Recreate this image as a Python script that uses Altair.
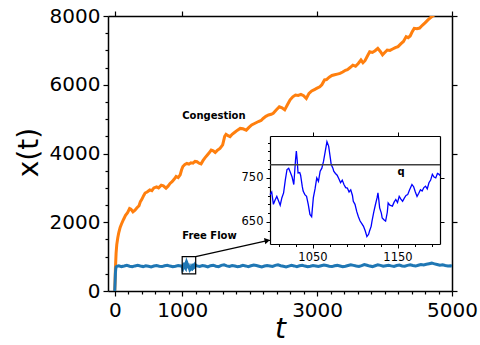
import altair as alt
import pandas as pd

# ---------------- data ----------------
orange_t = [0, 5, 10, 20, 30, 45, 60, 80, 100, 130, 160, 190, 220, 240, 270, 300, 330, 360, 380, 400,
            430, 450, 480, 520, 550, 580, 620, 650, 690, 720, 760, 790, 820, 850, 880, 910, 940, 970, 990, 1010,
            1040, 1070, 1100, 1130, 1160, 1190, 1220, 1250, 1280, 1310, 1340, 1370, 1400, 1430, 1460, 1490, 1520, 1560, 1600, 1630,
            1650, 1680, 1710, 1740, 1780, 1820, 1860, 1900, 1950, 1990, 2030, 2080, 2130, 2170, 2200, 2240, 2280, 2320, 2350, 2390,
            2440, 2480, 2520, 2560, 2600, 2640, 2680, 2720, 2760, 2800, 2840, 2880, 2920, 2960, 3000, 3040, 3070, 3110, 3140, 3180,
            3220, 3260, 3300, 3340, 3380, 3420, 3450, 3490, 3530, 3570, 3610, 3650, 3680, 3710, 3750, 3780, 3820, 3860, 3900, 3940,
            3970, 4000, 4040, 4080, 4120, 4160, 4200, 4240, 4280, 4320, 4350, 4380, 4410, 4440, 4480, 4520, 4560, 4600, 4640, 4680,
            4720, 4760, 4800]
orange_v = [0, 300, 650, 1100, 1350, 1550, 1700, 1850, 1950, 2080, 2200, 2280, 2400, 2380, 2300, 2350, 2420, 2480, 2600, 2660,
            2780, 2850, 2880, 2940, 2920, 3000, 3030, 3000, 3080, 3060, 2990, 3050, 3130, 3180, 3250, 3330, 3300, 3380, 3520, 3620,
            3680, 3710, 3690, 3730, 3720, 3770, 3760, 3720, 3700, 3800, 3880, 3950, 4020, 4100, 4080, 4030, 4090, 4150, 4250, 4500,
            4560, 4520, 4490, 4560, 4620, 4680, 4730, 4720, 4680, 4760, 4830, 4880, 4930, 4960, 5020, 5080, 5120, 5140, 5170, 5260,
            5360, 5330, 5270, 5420, 5560, 5650, 5700, 5690, 5720, 5680, 5600, 5750, 5820, 5860, 5900, 5940, 6000, 6140, 6150, 6220,
            6270, 6290, 6310, 6330, 6370, 6420, 6440, 6500, 6570, 6540, 6620, 6720, 6640, 6700, 6850, 6960, 6940, 6990, 7060, 6960,
            6870, 6930, 7010, 7000, 7040, 7080, 7110, 7190, 7260, 7400, 7370, 7420, 7540, 7640, 7630, 7650, 7730, 7800, 7880, 7950,
            8010, 8060, 8120]

blue_t = [0, 5, 10, 15, 20, 30, 60, 100, 140, 180, 220, 260, 300, 340, 380, 420, 460, 500, 540, 580,
          620, 660, 700, 740, 780, 820, 860, 900, 940, 980,
          1220, 1260, 1300, 1340, 1380, 1420, 1460, 1500, 1540, 1580, 1620, 1660, 1700, 1740, 1780, 1820, 1860, 1900, 1940, 1980,
          2020, 2060, 2100, 2140, 2180, 2220, 2260, 2300, 2340, 2380, 2420, 2460, 2500, 2540, 2580, 2620, 2660, 2700, 2740, 2780,
          2820, 2860, 2900, 2940, 2980, 3020, 3060, 3100, 3140, 3180, 3220, 3260, 3300, 3340, 3380, 3420, 3460, 3500, 3540, 3580,
          3620, 3660, 3700, 3740, 3780, 3820, 3860, 3900, 3940, 3980, 4020, 4060, 4100, 4140, 4180, 4220, 4260, 4300, 4340, 4380,
          4420, 4460, 4500, 4540, 4580, 4620, 4660, 4700, 4740, 4780, 4820, 4860, 4900, 4940, 4980, 5000]
blue_v = [0, 250, 520, 640, 700, 720, 735, 710, 725, 745, 720, 705, 730, 745, 725, 710, 735, 720, 700, 725,
          740, 720, 710, 735, 750, 725, 705, 720, 740, 725,
          730, 715, 740, 725, 700, 735, 750, 720, 710, 745, 760, 730, 715, 740, 725, 705, 720, 745, 730, 710,
          735, 755, 740, 720, 700, 725, 740, 730, 715, 745, 760, 735, 720, 700, 725, 745, 730, 710, 735, 750,
          725, 705, 720, 740, 730, 715, 735, 755, 740, 720, 710, 735, 745, 725, 705, 720, 740, 760, 745, 725,
          715, 740, 770, 750, 725, 710, 735, 760, 745, 720, 735, 750, 730, 715, 740, 755, 730, 720, 745, 760,
          740, 725, 750, 770, 760, 780, 795, 810, 790, 770, 750, 760, 740, 730, 735, 725]

inset_t = [1000, 1002, 1004, 1006, 1008, 1010, 1012, 1014, 1016, 1018, 1020, 1022, 1024, 1026, 1028, 1030, 1031, 1032, 1033, 1035,
           1036, 1038, 1039, 1041, 1043, 1045, 1047, 1049, 1051, 1053, 1055, 1057, 1059, 1061, 1063, 1065, 1067, 1069, 1071, 1072,
           1074, 1075, 1077, 1079, 1081, 1083, 1085, 1087, 1089, 1091, 1093, 1095, 1097, 1098, 1100, 1102, 1104, 1106, 1108, 1110,
           1112, 1114, 1116, 1117, 1119, 1120, 1122, 1124, 1126, 1127, 1128, 1129, 1131, 1132, 1134, 1136, 1138, 1139, 1141, 1144,
           1146, 1148, 1150, 1152, 1154, 1156, 1158, 1160, 1162, 1164, 1167, 1169, 1171, 1173, 1175, 1177, 1179, 1181, 1183, 1185,
           1187, 1189, 1191, 1193, 1195, 1197, 1199, 1200]
inset_v = [712, 718, 690, 700, 708, 698, 688, 705, 716, 745, 769, 772, 762, 752, 735, 790, 811, 790, 761, 762,
           756, 730, 720, 712, 708, 690, 667, 662, 705, 725, 750, 742, 765, 772, 788, 810, 832, 822, 795, 780,
           772, 765, 760, 756, 748, 739, 745, 735, 728, 727, 718, 723, 710, 697, 690, 674, 662, 652, 646, 640,
           630, 617, 622, 629, 640, 652, 672, 689, 705, 716, 700, 682, 670, 659, 655, 652, 672, 693, 688, 686,
           695, 701, 694, 708, 702, 697, 704, 710, 712, 722, 735, 730, 718, 708, 715, 723, 720, 728, 731, 725,
           739, 745, 758, 752, 750, 760, 758, 755]

q_value = 780
box_t = [1000, 1200]
box_v = [500, 1000]
arrow_t = [1200, 2262]
arrow_v = [1000, 1466]
labels = ["Congestion", "Free Flow"]
label_t = [1000, 1000]
label_v = [5000, 1500]

main_x_major = [0, 1000, 3000, 5000]
main_x_minor = [v for v in range(0, 5001, 200)]
main_y_major = [0, 2000, 4000, 6000, 8000]
main_y_minor = [v for v in range(0, 8001, 500)]
inset_x_major = [1050, 1150]
inset_x_minor = [1010, 1030, 1050, 1070, 1090, 1110, 1130, 1150, 1170, 1190]
inset_y_major = [650, 750]
inset_y_minor = [610, 630, 650, 670, 690, 710, 730, 750, 770, 790, 810, 830]

FONT = "DejaVu Sans"

orange_df = pd.DataFrame({"t": orange_t, "x": orange_v})
blue_df = pd.concat([pd.DataFrame({"t": blue_t, "x": blue_v}),
                     pd.DataFrame({"t": inset_t, "x": inset_v})]).sort_values("t")
inset_df = pd.DataFrame({"t": inset_t, "x": inset_v})
box_df = pd.DataFrame({"t": [box_t[0]], "t2": [box_t[1]], "x": [box_v[0]], "x2": [box_v[1]]})
arrow_df = pd.DataFrame({"t": arrow_t, "x": arrow_v})
head_df = pd.DataFrame({"t": [arrow_t[1]], "x": [arrow_v[1]]})
label_df = pd.DataFrame({"t": label_t, "x": label_v, "label": labels})
q_df = pd.DataFrame({"t": [1000], "t2": [1200], "x": [q_value]})
qlab_df = pd.DataFrame({"t": [1150], "x": [757], "label": ["q"]})
dummy_df = pd.DataFrame({"t": [0], "x": [0]})

xs = alt.Scale(domain=[-100, 5000], nice=False, zero=False)
ys = alt.Scale(domain=[0, 8000], nice=False, zero=False)
xs2 = alt.Scale(domain=[1000, 1200], range=[162, 332], nice=False, zero=False)
ys2 = alt.Scale(domain=[600, 845], range=[228, 120], nice=False, zero=False)


def is_in(vals):
    return "indexof([" + ",".join(str(v) for v in vals) + "], datum.value) >= 0"


common = dict(grid=False, domainColor="black", domainWidth=1.5, tickColor="black", tickWidth=1.2,
              labelColor="black", labelFont=FONT, labelOverlap=False, labelFlush=False, format="d")

ax_bottom = alt.Axis(orient="bottom", values=main_x_minor, labelExpr=f"{is_in(main_x_major)} ? datum.label : ''",
                     tickSize={"condition": {"test": is_in(main_x_major), "value": 5}, "value": 3},
                     labelFontSize=20, labelPadding=4, title="t", titleFont=FONT, titleFontSize=28,
                     titleFontStyle="italic", titleFontWeight="normal", titleColor="black",
                     titleX=172, titleY=46, titleBaseline="alphabetic", titleAlign="center", **common)
ax_left = alt.Axis(orient="left", values=main_y_minor, labelExpr=f"{is_in(main_y_major)} ? datum.label : ''",
                   tickSize={"condition": {"test": is_in(main_y_major), "value": 5}, "value": 3},
                   labelFontSize=20, labelPadding=3, title="x(t)", titleFont=FONT, titleFontSize=28,
                   titleFontWeight="normal", titleColor="black", titleAngle=270,
                   titleX=-79, titleY=136, titleBaseline="middle", titleAlign="center", **common)
ax_top = alt.Axis(orient="top", values=main_x_major, labels=False, tickSize=5, title=None, **common)
ax_right = alt.Axis(orient="right", values=main_y_major, labels=False, tickSize=5, title=None, **common)

orange = alt.Chart(orange_df).mark_line(color="#ff7f0e", strokeWidth=3, clip=True).encode(
    x=alt.X("t:Q", scale=xs, axis=ax_bottom), y=alt.Y("x:Q", scale=ys, axis=ax_left))
blue = alt.Chart(blue_df).mark_line(color="#1f77b4", strokeWidth=3, clip=True).encode(
    x=alt.X("t:Q", scale=xs, axis=None), y=alt.Y("x:Q", scale=ys, axis=None))
box = alt.Chart(box_df).mark_rect(fill="transparent", stroke="black", strokeWidth=1.2).encode(
    x=alt.X("t:Q", scale=xs, axis=None), x2="t2:Q",
    y=alt.Y("x:Q", scale=ys, axis=None), y2="x2:Q")
arrow = alt.Chart(arrow_df).mark_line(color="black", strokeWidth=1.2).encode(
    x=alt.X("t:Q", scale=xs, axis=None), y=alt.Y("x:Q", scale=ys, axis=None))
head = alt.Chart(head_df).mark_point(shape="triangle-right", filled=True, color="black", opacity=1,
                                     size=40, angle=348).encode(
    x=alt.X("t:Q", scale=xs, axis=None), y=alt.Y("x:Q", scale=ys, axis=None))
texts = alt.Chart(label_df).mark_text(font=FONT, fontSize=10, fontWeight="bold", align="left",
                                      baseline="alphabetic", color="black").encode(
    x=alt.X("t:Q", scale=xs, axis=None), y=alt.Y("x:Q", scale=ys, axis=None), text="label:N")
frame = alt.Chart(dummy_df).mark_point(opacity=0).encode(
    x=alt.X("t:Q", scale=xs, axis=ax_top), y=alt.Y("x:Q", scale=ys, axis=ax_right))

main = alt.layer(orange, blue, box, arrow, head, texts, frame).resolve_axis(x="independent", y="independent")

icommon = dict(grid=False, domainColor="black", domainWidth=1.2, tickColor="black", tickWidth=1,
               labelColor="black", labelFont=FONT, labelOverlap=False, labelFlush=False, format="d")
iax_bottom = alt.Axis(orient="bottom", offset=-47, values=inset_x_minor,
                      labelExpr=f"{is_in(inset_x_major)} ? datum.label : ''",
                      tickSize={"condition": {"test": is_in(inset_x_major), "value": 4}, "value": 2.5},
                      labelFontSize=11.5, labelPadding=3, title=None, **icommon)
iax_left = alt.Axis(orient="left", offset=-162, values=inset_y_minor,
                    labelExpr=f"{is_in(inset_y_major)} ? datum.label : ''",
                    tickSize={"condition": {"test": is_in(inset_y_major), "value": 4}, "value": 2.5},
                    labelFontSize=11.5, labelPadding=3, title=None, **icommon)
iax_top = alt.Axis(orient="top", offset=-120, values=inset_x_major, labels=False, tickSize=4, title=None, **icommon)
iax_right = alt.Axis(orient="right", offset=-12, values=inset_y_major, labels=False, tickSize=4, title=None, **icommon)

inset_line = alt.Chart(inset_df).mark_line(color="#0000ff", strokeWidth=1.3).encode(
    x=alt.X("t:Q", scale=xs2, axis=iax_bottom), y=alt.Y("x:Q", scale=ys2, axis=iax_left))
q_rule = alt.Chart(q_df).mark_rule(color="#404040", strokeWidth=1.5).encode(
    x=alt.X("t:Q", scale=xs2, axis=None), x2="t2:Q", y=alt.Y("x:Q", scale=ys2, axis=None))
q_text = alt.Chart(qlab_df).mark_text(font=FONT, fontSize=10, fontWeight="bold", align="left",
                                      baseline="alphabetic", color="black").encode(
    x=alt.X("t:Q", scale=xs2, axis=None), y=alt.Y("x:Q", scale=ys2, axis=None), text="label:N")
iframe = alt.Chart(dummy_df).mark_point(opacity=0).encode(
    x=alt.X("t:Q", scale=xs2, axis=iax_top), y=alt.Y("x:Q", scale=ys2, axis=iax_right))

inset = alt.layer(inset_line, q_rule, q_text, iframe).resolve_axis(x="independent", y="independent")

chart = alt.layer(main, inset).resolve_scale(x="independent", y="independent").properties(
    width=344, height=275,
    autosize=alt.AutoSizeParams(type="none"),
    padding={"left": 108, "top": 16, "right": 28, "bottom": 54},
    background="white",
).configure_view(stroke="transparent")

chart.save("out.html", embed_options={"renderer": "svg", "actions": False})
